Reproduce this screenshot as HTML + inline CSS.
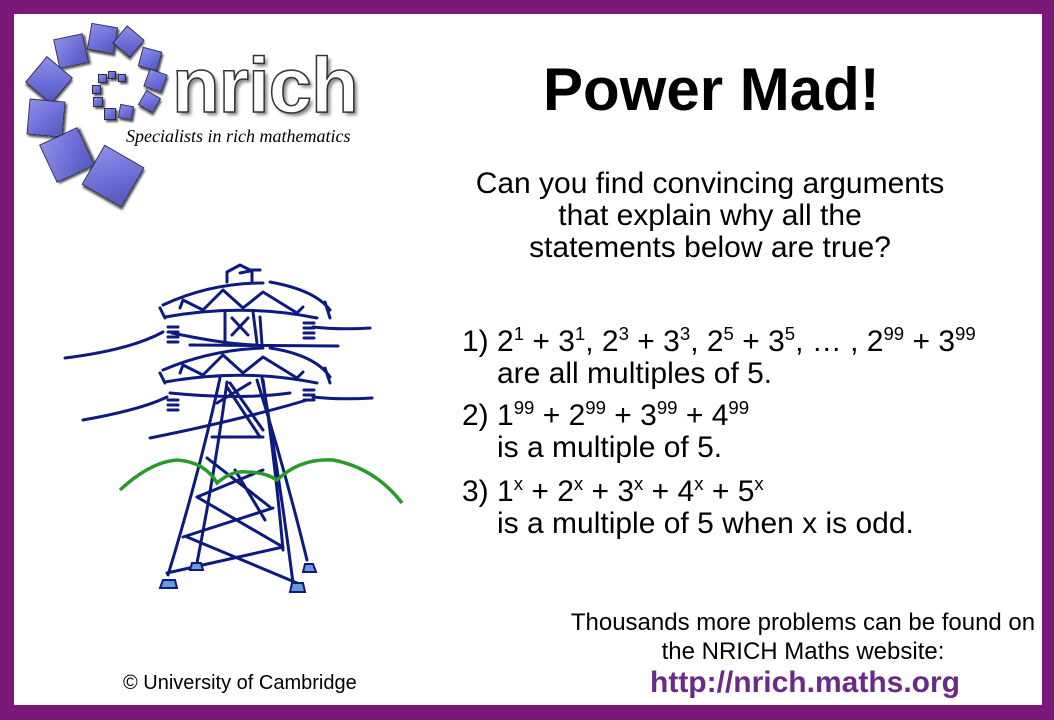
<!DOCTYPE html>
<html><head><meta charset="utf-8"><style>
body{margin:0;width:1054px;height:720px;overflow:hidden;background:#7a1a78;position:relative;font-family:"Liberation Sans",Arial,sans-serif}
#w{position:absolute;left:14px;top:14px;width:1028px;height:691px;background:#fff}
.t{position:absolute;white-space:nowrap;color:#000}
.c{text-align:center}
sup{font-size:62%;vertical-align:0;position:relative;top:-0.6em}
.sq{position:absolute;background:linear-gradient(135deg,#8c8ee8,#6a6cd6 60%,#5557b8);border:1.5px solid #2a2a55;box-shadow:2px 2px 2px #555}
</style></head><body>
<div id="w"></div>
<div class="sq" style="left:56px;top:36px;width:28px;height:28px;transform:rotate(-12deg)"></div>
<div class="sq" style="left:89px;top:25px;width:25px;height:25px;transform:rotate(10deg)"></div>
<div class="sq" style="left:117px;top:30px;width:21px;height:21px;transform:rotate(40deg)"></div>
<div class="sq" style="left:140px;top:49px;width:18px;height:18px;transform:rotate(15deg)"></div>
<div class="sq" style="left:146px;top:71px;width:17px;height:17px;transform:rotate(20deg)"></div>
<div class="sq" style="left:141px;top:93px;width:15px;height:15px;transform:rotate(30deg)"></div>
<div class="sq" style="left:32px;top:63px;width:32px;height:32px;transform:rotate(40deg)"></div>
<div class="sq" style="left:28px;top:100px;width:34px;height:34px;transform:rotate(5deg)"></div>
<div class="sq" style="left:46px;top:134px;width:40px;height:40px;transform:rotate(-25deg)"></div>
<div class="sq" style="left:90px;top:153px;width:44px;height:44px;transform:rotate(30deg)"></div>
<div class="sq" style="left:119px;top:105px;width:12px;height:12px;transform:rotate(10deg)"></div>
<div class="sq" style="left:104px;top:108px;width:10px;height:10px"></div>
<div class="sq" style="left:93px;top:97px;width:8px;height:8px"></div>
<div class="sq" style="left:92px;top:85px;width:7px;height:7px"></div>
<div class="sq" style="left:98px;top:74px;width:7px;height:7px"></div>
<div class="sq" style="left:108px;top:71px;width:6px;height:6px"></div>
<div class="sq" style="left:118px;top:74px;width:6px;height:6px"></div>
<div class="t" style="left:172px;top:46px;font-size:78px;font-weight:bold;color:#fff;-webkit-text-stroke:1.5px #333;text-shadow:3px 3px 3px #888;letter-spacing:-1px;line-height:1">nrich</div>
<div class="t" style="left:126px;top:126px;font-size:18px;font-style:italic;font-family:'Liberation Serif',serif">Specialists in rich mathematics</div>

<div class="t" style="left:543px;top:60px;font-size:60px;font-weight:bold;line-height:1">Power Mad!</div>
<div class="t c" style="left:410px;width:600px;top:168px;font-size:30px;line-height:32px">Can you find convincing arguments<br>that explain why all the<br>statements below are true?</div>

<div class="t" style="left:462px;top:326px;font-size:30px;line-height:32px">1) 2<sup>1</sup> + 3<sup>1</sup>, 2<sup>3</sup> + 3<sup>3</sup>, 2<sup>5</sup> + 3<sup>5</sup>, … , 2<sup>99</sup> + 3<sup>99</sup></div>
<div class="t" style="left:497px;top:358px;font-size:30px;line-height:32px">are all multiples of 5.</div>
<div class="t" style="left:462px;top:400px;font-size:30px;line-height:32px">2) 1<sup>99</sup> + 2<sup>99</sup> + 3<sup>99</sup> + 4<sup>99</sup></div>
<div class="t" style="left:497px;top:432px;font-size:30px;line-height:32px">is a multiple of 5.</div>
<div class="t" style="left:462px;top:476px;font-size:30px;line-height:32px">3) 1<sup>x</sup> + 2<sup>x</sup> + 3<sup>x</sup> + 4<sup>x</sup> + 5<sup>x</sup></div>
<div class="t" style="left:497px;top:508px;font-size:30px;line-height:32px">is a multiple of 5 when x is odd.</div>

<div class="t c" style="left:553px;width:500px;top:608px;font-size:24px;line-height:29px">Thousands more problems can be found on<br>the NRICH Maths website:</div>
<div class="t c" style="left:555px;width:500px;top:665px;font-size:30px;font-weight:bold;color:#6a2a88;line-height:36px">http://nrich.maths.org</div>
<div class="t" style="left:123px;top:672px;font-size:20px">© University of Cambridge</div>

<svg style="position:absolute;left:0;top:0" width="1054" height="720">
<g fill="none" stroke="#0d1a80" stroke-width="3" stroke-linecap="round" stroke-linejoin="round">
<path d="M227 282 V272 L240 265 L250 270 L260 270 M240 273 L250 271 M252 270 V283"/>
<path d="M163 305 Q210 283 263 283 M270 282 Q315 290 330 310 M325 302 L330 318"/>
<path d="M165 317 Q243 303 317 318 M160 308 L165 318"/>
<path d="M180 308 L183 300 L203 310 L223 290 L243 308 L263 292 L297 313 L303 307"/>
<path d="M225 313 V342 M253 312 L257 343 M260 317 L262 345 M232 318 L248 335 M248 318 L232 335"/>
<path d="M65 358 Q130 350 163 332 M190 345 L338 346 M172 333 Q230 345 257 345 M313 327 Q340 330 370 328"/>
<path d="M163 370 Q210 350 263 348 M270 348 Q315 355 330 377 M325 368 L330 383"/>
<path d="M165 382 Q243 368 317 383 M160 373 L165 383"/>
<path d="M180 373 L183 365 L203 375 L223 355 L243 373 L263 357 L297 378 L303 372"/>
<path d="M83 420 Q140 410 167 397 M170 393 Q240 400 290 393 M313 397 Q340 400 372 398 M150 438 Q240 420 307 400"/>
<path d="M168 327 h10 M168 332 h10 M168 337 h10 M168 342 h10 M168 400 h10 M168 405 h10 M168 410 h10 M304 323 h10 M304 328 h10 M304 333 h10 M304 338 h10 M304 390 h10 M304 395 h10 M304 400 h10"/>
<path d="M220 378 Q200 470 168 575 M227 382 Q215 470 197 563 M262 378 Q280 480 293 583 M257 380 Q285 470 307 560 M263 380 Q275 460 283 550"/>
<path d="M230 383 L263 430 M217 403 L250 383 M227 387 L260 437 M212 437 L263 437 M207 458 L270 507 M263 470 L197 497 M197 497 L283 547 M273 508 L183 537 M187 537 L297 583 M283 547 L167 573 M235 470 L265 520"/>
</g>
<path d="M120 490 Q150 462 177 460 Q205 462 217 483 Q232 470 247 472 Q265 472 277 480 Q300 458 333 460 Q375 468 402 503" fill="none" stroke="#2a9a2a" stroke-width="3.5"/>
<g fill="#6a9ad6" stroke="#0d1a80" stroke-width="2"><path d="M160 588 L177 588 L175 580 L163 580Z"/><path d="M290 592 L305 592 L303 583 L292 583Z"/><path d="M190 570 L203 570 L201 563 L192 563Z"/><path d="M303 572 L316 572 L313 564 L305 564Z"/></g>
</svg>
</body></html>
